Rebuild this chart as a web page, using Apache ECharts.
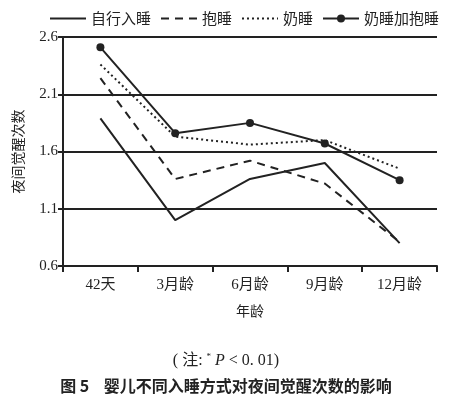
<!DOCTYPE html>
<html lang="zh">
<head>
<meta charset="UTF-8">
<script src="https://cdn.jsdelivr.net/npm/echarts@6/dist/echarts.min.js"></script>
<title>图5</title>
<style>
  body { margin: 0; background: #fff; }
  #main { width: 452px; height: 405px; }
</style>
</head>
<body>
<div id="main"></div>
<script type="text/javascript">
// 年龄分组
var categories = ['42天', '3月龄', '6月龄', '9月龄', '12月龄'];
// 各入睡方式的夜间觉醒次数
var zixing = [1.89, 1.00, 1.36, 1.50, 0.80];
var baoshui = [2.24, 1.36, 1.52, 1.32, 0.81];
var naishui = [2.36, 1.73, 1.66, 1.70, 1.45];
var naibao = [2.51, 1.76, 1.85, 1.67, 1.35];
var yTicks = [0.6, 1.1, 1.6, 2.1, 2.6];

var ink = '#222';
var serif = 'Liberation Serif, DejaVu Serif, Noto Sans CJK SC';
var cjk = 'Noto Sans CJK SC';

var myChart = echarts.init(document.getElementById('main'));

var option = {
    backgroundColor: '#fff',
    animation: false,
    legend: {
        top: 6,
        left: 44,
        itemWidth: 36,
        itemHeight: 10,
        itemGap: 9,
        textStyle: { fontFamily: cjk, fontSize: 15, color: ink },
        data: [
            { name: '自行入睡', itemStyle: { opacity: 0 } },
            { name: '抱睡', itemStyle: { opacity: 0 } },
            { name: '奶睡', itemStyle: { opacity: 0 } },
            { name: '奶睡加抱睡' }
        ]
    },
    grid: { left: 63, right: 15, top: 37, bottom: 139 },
    xAxis: {
        type: 'category',
        data: categories,
        boundaryGap: true,
        name: '年龄',
        nameLocation: 'middle',
        nameGap: 38,
        nameTextStyle: { fontFamily: cjk, fontSize: 14, color: ink },
        axisLine: { lineStyle: { color: ink, width: 2 } },
        axisTick: { show: true, length: 6, lineStyle: { color: ink, width: 2 } },
        axisLabel: { fontFamily: serif, fontSize: 15, color: ink, margin: 12 }
    },
    yAxis: {
        type: 'value',
        min: 0.6,
        max: 2.6,
        interval: 0.5,
        name: '夜间觉醒次数',
        nameLocation: 'middle',
        nameRotate: 90,
        nameGap: 38,
        nameTextStyle: { fontFamily: cjk, fontSize: 14, color: ink },
        axisLine: { show: true, lineStyle: { color: ink, width: 2 } },
        axisTick: { show: true, length: 5, lineStyle: { color: ink, width: 2 } },
        axisLabel: {
            fontFamily: serif, fontSize: 15, color: ink, margin: 5,
            formatter: function (v) {
                for (var i = 0; i < yTicks.length; i++) {
                    if (Math.abs(yTicks[i] - v) < 1e-6) return yTicks[i].toFixed(1);
                }
                return '';
            }
        },
        splitLine: { show: true, lineStyle: { color: ink, width: 2 } }
    },
    series: [
        {
            name: '自行入睡', type: 'line', data: zixing,
            symbol: 'none', itemStyle: { color: ink },
            lineStyle: { color: ink, width: 2, type: 'solid' }
        },
        {
            name: '抱睡', type: 'line', data: baoshui,
            symbol: 'none', itemStyle: { color: ink },
            lineStyle: { color: ink, width: 2, type: [8, 6] }
        },
        {
            name: '奶睡', type: 'line', data: naishui,
            symbol: 'none', itemStyle: { color: ink },
            lineStyle: { color: ink, width: 2, type: [2, 3] }
        },
        {
            name: '奶睡加抱睡', type: 'line', data: naibao,
            symbol: 'circle', symbolSize: 8, itemStyle: { color: ink },
            lineStyle: { color: ink, width: 2, type: 'solid' }
        }
    ],
    graphic: [
        {
            type: 'text', left: 'center', top: 352,
            style: {
                text: '( 注: {sup|*} {it|P} < 0. 01)',
                fontFamily: serif, fontSize: 16, fill: ink,
                rich: {
                    sup: { fontSize: 9, verticalAlign: 'top', padding: [0, 0, 8, 0], fontFamily: serif, fill: ink },
                    it: { fontStyle: 'italic', fontSize: 16, fontFamily: serif, fill: ink }
                }
            }
        },
        {
            type: 'text', left: 'center', top: 378,
            style: { text: '图 5    婴儿不同入睡方式对夜间觉醒次数的影响', fontFamily: cjk, fontSize: 16, fontWeight: 'bold', fill: ink }
        }
    ]
};

myChart.setOption(option);
</script>
</body>
</html>
